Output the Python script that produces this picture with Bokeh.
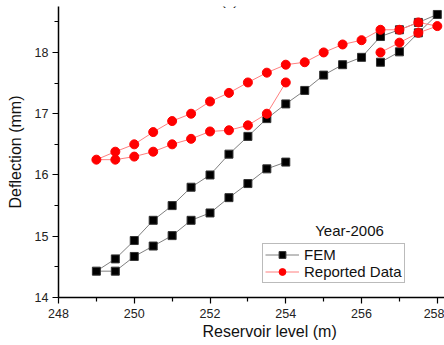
from bokeh.plotting import figure
from bokeh.models import Range1d, Label, Legend, LegendItem, FixedTicker, Title
from bokeh.embed import file_html
from bokeh.resources import INLINE

# FEM (path order)
fem_x = [254.0, 253.5, 253.0, 252.5, 252.0, 251.5, 251.0, 250.5, 250.0, 249.5, 249.0,
         249.5, 250.0, 250.5, 251.0, 251.5, 252.0, 252.5, 253.0, 253.5, 254.0, 254.5,
         255.0, 255.5, 256.0, 256.5, 257.0, 257.5, 258.0, 257.5, 257.0, 256.5]
fem_y = [16.21, 16.10, 15.86, 15.63, 15.38, 15.26, 15.01, 14.84, 14.67, 14.43, 14.43,
         14.63, 14.93, 15.26, 15.50, 15.80, 16.00, 16.34, 16.63, 16.92, 17.16, 17.38,
         17.63, 17.80, 17.92, 18.26, 18.37, 18.49, 18.62, 18.32, 18.01, 17.84]

# Reported data (path order)
rep_x = [254.0, 253.5, 253.0, 252.5, 252.0, 251.5, 251.0, 250.5, 250.0, 249.5, 249.0,
         249.5, 250.0, 250.5, 251.0, 251.5, 252.0, 252.5, 253.0, 253.5, 254.0, 254.5,
         255.0, 255.5, 256.0, 256.5, 257.0, 257.5, 258.0, 257.5, 257.0, 256.5]
rep_y = [17.51, 17.00, 16.81, 16.73, 16.71, 16.59, 16.50, 16.38, 16.30, 16.25, 16.25,
         16.38, 16.50, 16.70, 16.88, 17.00, 17.20, 17.34, 17.51, 17.67, 17.80, 17.84,
         18.00, 18.13, 18.20, 18.37, 18.37, 18.49, 18.43, 18.32, 18.16, 18.00]

x_ticks = [248, 250, 252, 254, 256, 258]
y_ticks = [14, 15, 16, 17, 18]

FONT = "Liberation Sans"

p = figure(width=444, height=345, output_backend="svg", toolbar_location=None,
           x_range=Range1d(248, 258.19), y_range=Range1d(14, 18.75),
           min_border_left=58, min_border_right=0, min_border_top=6, min_border_bottom=48)
p.outline_line_color = None
p.grid.visible = False
p.background_fill_color = "white"
p.border_fill_color = "white"

l1 = p.line(fem_x, fem_y, line_color="#808080", line_width=1)
s1 = p.scatter(fem_x, fem_y, marker="square", size=8, fill_color="black", line_color="#333333")
l2 = p.line(rep_x, rep_y, line_color="#ff7f7f", line_width=1)
s2 = p.scatter(rep_x, rep_y, marker="circle", size=9, fill_color="#ff0000", line_color="#ff0000")

for ax in (p.xaxis[0], p.yaxis[0]):
    ax.axis_line_width = 1.5
    ax.axis_line_color = "black"
    ax.major_tick_line_color = "black"
    ax.minor_tick_line_color = "black"
    ax.major_tick_line_width = 1.2
    ax.minor_tick_line_width = 1.2
    ax.major_tick_out = 6
    ax.major_tick_in = 0
    ax.minor_tick_out = 4
    ax.minor_tick_in = 0
    ax.major_label_text_font = FONT
    ax.major_label_text_font_size = "12.5px"
    ax.major_label_text_color = "#222222"

p.xaxis[0].ticker = FixedTicker(ticks=x_ticks, minor_ticks=[249, 251, 253, 255, 257])
p.yaxis[0].ticker = FixedTicker(ticks=y_ticks, minor_ticks=[14.5, 15.5, 16.5, 17.5, 18.5])
p.xaxis[0].major_label_standoff = 5
p.yaxis[0].major_label_standoff = 4

p.yaxis[0].axis_label = "Deflection (mm)"
p.yaxis[0].axis_label_text_font = FONT
p.yaxis[0].axis_label_text_font_size = "16px"
p.yaxis[0].axis_label_text_font_style = "normal"
p.yaxis[0].axis_label_text_color = "#111111"
p.yaxis[0].axis_label_standoff = 8

xtitle = Title(text="Reservoir level (m)", align="left", offset=144, standoff=0,
               text_font=FONT, text_font_size="16px", text_font_style="normal",
               text_color="#111111")
p.add_layout(xtitle, "below")

legend = Legend(items=[LegendItem(label="FEM", renderers=[l1, s1]),
                       LegendItem(label="Reported Data", renderers=[l2, s2])],
                location=(204, 14), orientation="vertical")
legend.label_text_font = FONT
legend.label_text_font_size = "15px"
legend.label_text_color = "#111111"
legend.border_line_color = "#777777"
legend.border_line_width = 1
legend.background_fill_alpha = 1
legend.padding = 2
legend.spacing = 0
legend.margin = 0
legend.glyph_width = 34
legend.glyph_height = 17
legend.label_height = 17
legend.label_standoff = 5
p.add_layout(legend, "center")

# labels relative to the plot frame (screen px)
p.add_layout(Label(x=291, y=67, x_units="screen", y_units="screen", text="Year-2006",
                   text_font=FONT, text_font_size="15px", text_color="#111111",
                   text_align="center", text_baseline="middle"))
p.add_layout(Label(x=171, y=298, x_units="screen", y_units="screen", text="(c)",
                   text_font=FONT, text_font_size="15px", text_color="#111111",
                   text_align="center", text_baseline="middle"))

open("out.html", "w").write(file_html(p, INLINE))
